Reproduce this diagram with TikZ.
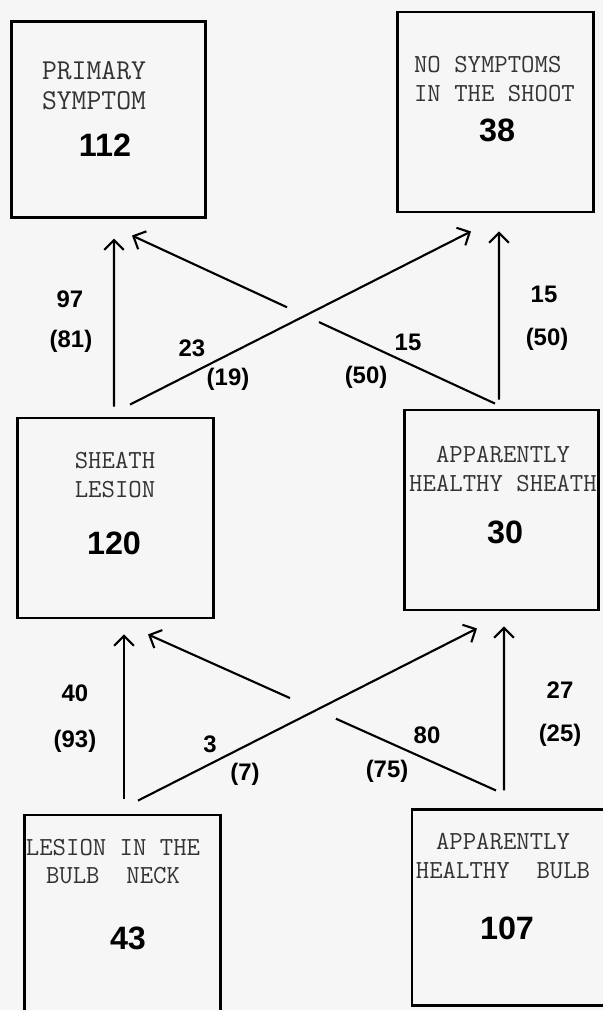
\documentclass[tikz,border=0pt]{standalone}
\usepackage{fontspec}
\setsansfont{Liberation Sans}
\usetikzlibrary{calc,arrows.meta}
\definecolor{paper}{RGB}{246,246,246}

\begin{document}
\begin{tikzpicture}[x=0.025cm,y=-0.025cm,>={Straight Barb[length=7pt,width=14pt]}, line width=1.5pt]
                \tikzstyle{box} = [draw, rectangle, line width=2pt, inner sep=0pt, minimum width=4.85cm, minimum height=5cm]
                \tikzstyle{title} = [font=\ttfamily\fontsize{18.5}{20}\selectfont, text=black!80, align=center, inner sep=0pt]
                \tikzstyle{count} = [font=\sffamily\bfseries\fontsize{23}{23}\selectfont, inner sep=0pt]
                \tikzstyle{lab} = [font=\sffamily\bfseries\fontsize{17}{17}\selectfont, inner sep=0pt]

                % Background and page size
                \fill[paper] (0,0) rectangle (603,1010);
                \useasboundingbox (0,0) rectangle (603,1010);

                % Top row
                \node[box, minimum width=4.83cm, minimum height=4.88cm] (ps) at (108.5,119.5) {};
                \node[title, font=\ttfamily\fontsize{20.5}{21}\selectfont] (ps-t) at (94,85.5) {PRIMARY\\SYMPTOM};
                \node[count] (ps-n) at (105,145) {112};

                \node[box, minimum width=4.88cm] (ns) at (495.5,112) {};
                \node[title, align=left, anchor=west] (ns-t) at (413,79) {NO SYMPTOMS\\IN THE SHOOT};
                \node[count] (ns-n) at (497,130) {38};

                % Middle row
                \node[box, minimum width=4.88cm] (sl) at (115.5,518) {};
                \node[title] (sl-t) at (115,475) {SHEATH\\LESION};
                \node[count] (sl-n) at (114,543) {120};

                \node[box, minimum width=4.83cm] (ahs) at (501.5,510) {};
                \node[title] (ahs-t) at (503,469) {APPARENTLY\\HEALTHY SHEATH};
                \node[count] (ahs-n) at (505,532) {30};

                % Bottom row
                \node[box, minimum width=4.88cm, minimum height=5.4cm] (lbn) at (122.5,923) {};
                \node[title] (lbn-t) at (113,861.5) {LESION IN THE\\BULB\ \ NECK};
                \node[count] (lbn-n) at (128,938) {43};

                \node[box, minimum width=5.05cm, minimum height=4.88cm] (ahb) at (513,907.5) {};
                \node[title] (ahb-t) at (503,856) {APPARENTLY\\HEALTHY\ \ BULB};
                \node[count] (ahb-n) at (507,928) {107};

                % Arrows: sheath -> shoot
                \draw[->] ($(sl.north)+(-1.5,-10)$) -- ($(ps.south)+(5.5,20)$);
                \draw[->] ($(sl.north)+(14.5,-12)$) -- ($(ns.south)+(-24.5,18)$);
                \coordinate (d2a) at ($(ahs.north)+(-6.5,-5)$);
                \coordinate (d2b) at ($(ps.south)+(23.5,17)$);
                \draw (d2a) -- ($(d2a)!0.485!(d2b)$);
                \draw[->] ($(d2a)!0.573!(d2b)$) -- (d2b);
                \draw[->] ($(ahs.north)+(-2.5,-9)$) -- ($(ns.south)+(3.5,18)$);

                % Arrows: bulb -> sheath
                \draw[->] ($(lbn.north)+(1.5,-15)$) -- ($(sl.south)+(8.5,15)$);
                \draw[->] ($(lbn.north)+(15.5,-13)$) -- ($(ahs.south)+(-24.5,17)$);
                \coordinate (d4a) at ($(ahb.north)+(-17,-18)$);
                \coordinate (d4b) at ($(sl.south)+(32.5,15)$);
                \draw (d4a) -- ($(d4a)!0.46!(d4b)$);
                \draw[->] ($(d4a)!0.592!(d4b)$) -- (d4b);
                \draw[->] ($(ahb.north)+(-9,-18)$) -- ($(ahs.south)+(2.5,15)$);

                % Labels
                \node[lab] (v1a) at (70,299) {97};
                \node[lab] (v1b) at (71,341) {(81)};
                \node[lab] (d1a) at (192,348) {23};
                \node[lab] (d1b) at (228,379) {(19)};
                \node[lab] (d2x) at (408,342) {15};
                \node[lab] (d2y) at (366,377) {(50)};
                \node[lab] (v2a) at (544,294) {15};
                \node[lab] (v2b) at (547,339) {(50)};

                \node[lab] (v3a) at (75,693) {40};
                \node[lab] (v3b) at (75,741) {(93)};
                \node[lab] (d3a) at (210,744) {3};
                \node[lab] (d3b) at (245,774) {(7)};
                \node[lab] (d4x) at (427,735) {80};
                \node[lab] (d4y) at (387,771) {(75)};
                \node[lab] (v4a) at (560,690) {27};
                \node[lab] (v4b) at (560,735) {(25)};
            \end{tikzpicture}
\end{document}
